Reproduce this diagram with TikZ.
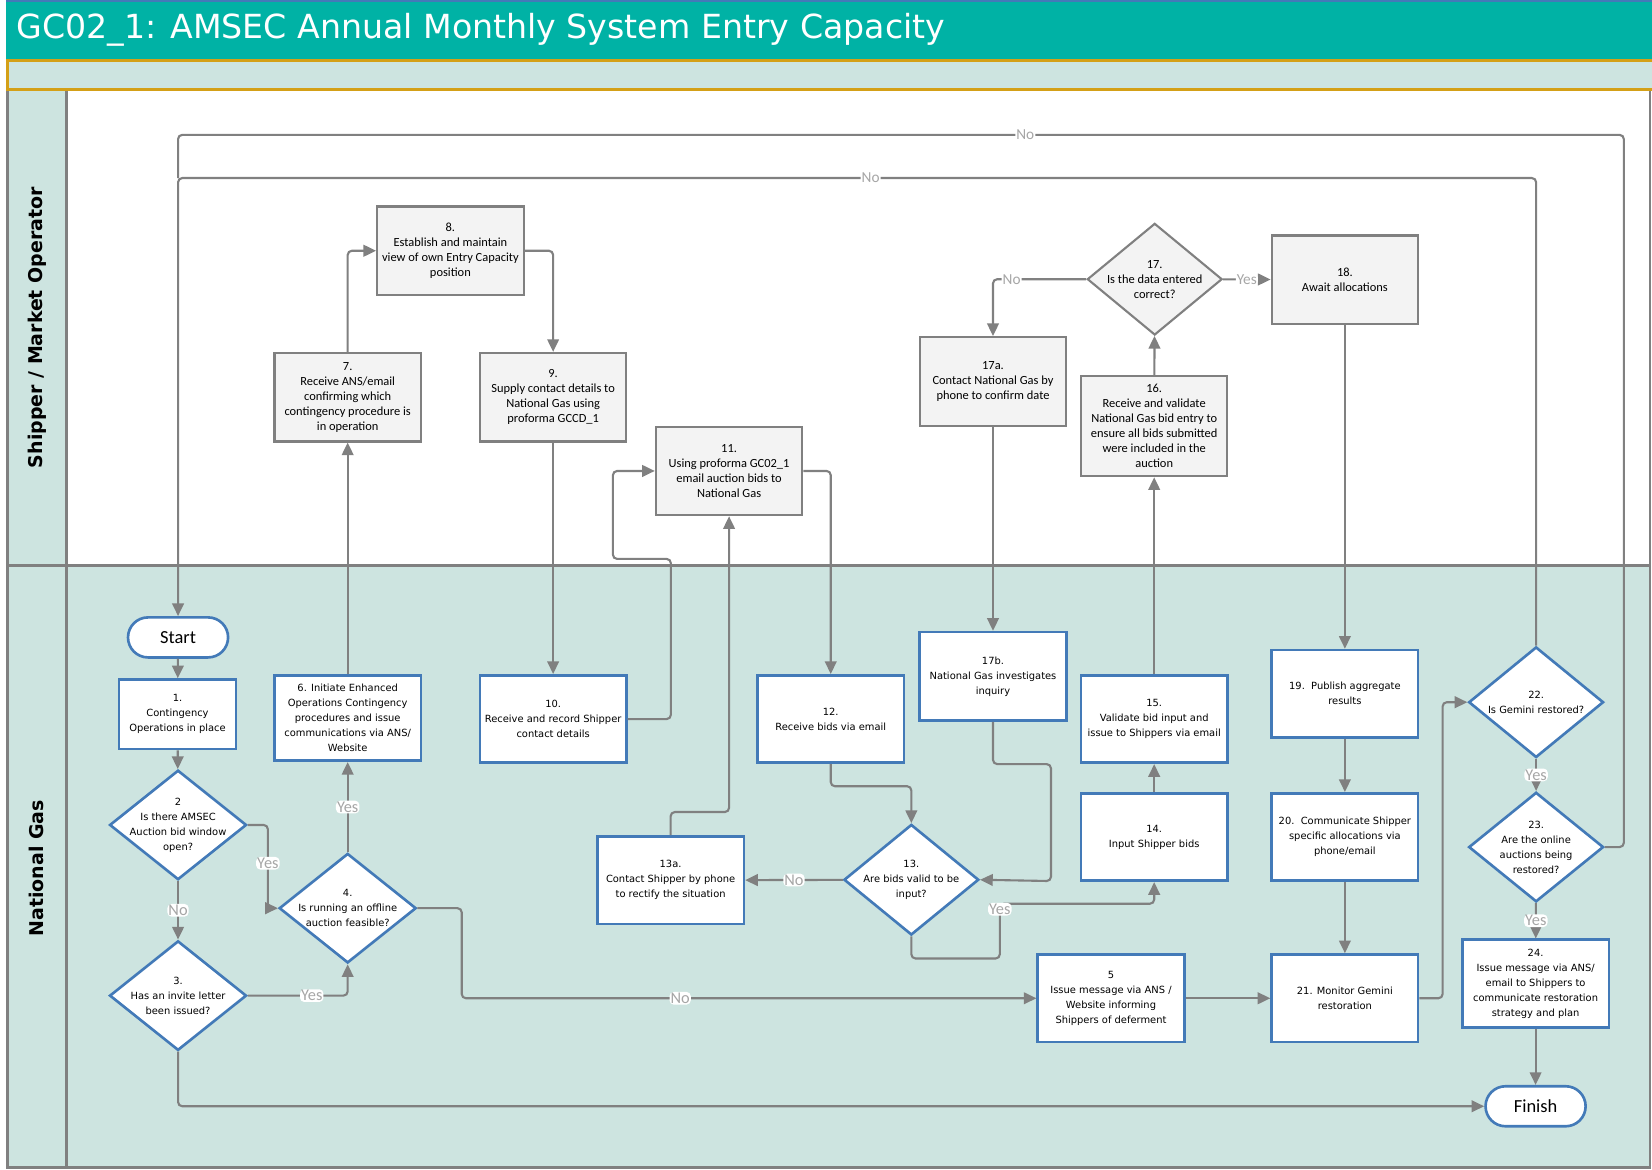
\documentclass[tikz,border=0pt]{standalone}
\usepackage{fontspec}
\setmainfont{DejaVu Sans}
\newfontfamily\calfont{Carlito}
\newfontfamily\tahfont{DejaVu Sans}
\usepackage{tikz}
\usetikzlibrary{shapes,arrows.meta,calc}

\definecolor{ngteal}{RGB}{0,178,165}
\definecolor{ngband}{RGB}{205,228,224}
\definecolor{ngold}{RGB}{212,160,23}
\definecolor{ngblue}{RGB}{67,122,184}
\definecolor{linegrey}{RGB}{128,128,128}
\definecolor{boxgrey}{RGB}{243,243,243}
\definecolor{labgrey}{RGB}{166,166,166}

\begin{document}
\begin{tikzpicture}[x=1pt, y=-1pt,
  sbox/.style={draw=linegrey, fill=boxgrey, line width=2pt, inner sep=0pt,
    minimum width=139, minimum height=84, align=center,
    font=\calfont\fontsize{11.8}{14.2}\selectfont},
  nbox/.style={draw=ngblue, fill=white, line width=2.5pt, inner sep=0pt,
    minimum width=139, minimum height=83, align=center,
    font=\tahfont\fontsize{9.4}{14.2}\selectfont},
  sdec/.style={diamond, draw=linegrey, fill=boxgrey, line width=2pt, inner sep=0pt,
    minimum width=128, minimum height=106},
  ndec/.style={diamond, draw=ngblue, fill=white, line width=2.5pt, inner sep=0pt,
    minimum width=130, minimum height=104},
  stxt/.style={align=center, inner sep=0pt, font=\calfont\fontsize{11.8}{14.2}\selectfont},
  ntxt/.style={align=center, inner sep=0pt, font=\tahfont\fontsize{9.4}{14.2}\selectfont},
  term/.style={draw=ngblue, fill=white, line width=2.5pt, rounded corners=19pt,
    minimum width=95, minimum height=38, font=\calfont\fontsize{17.5}{18}\selectfont},
  flow/.style={draw=linegrey, line width=2pt, rounded corners=4pt,
    -{Triangle[length=12pt, width=11pt]}},
  link/.style={draw=linegrey, line width=2pt, rounded corners=4pt},
  cond/.style={text=labgrey, fill=white, inner sep=1pt,
    font=\calfont\fontsize{15.5}{15.5}\selectfont},
  condsm/.style={cond, font=\calfont\fontsize{14.5}{14.5}\selectfont}
  ]

  \useasboundingbox (0,0) rectangle (1568,1110);
  \fill[white] (0,0) rectangle (1568,1110);

  %% title
  \fill[ngteal] (6,0) rectangle (1568,56);
  \fill[ngblue] (6,0) rectangle (1568,2);
  \node[anchor=west, text=white, font=\fontsize{31.5}{32}\selectfont] (title) at (12,28)
    {GC02\_1: AMSEC Annual Monthly System Entry Capacity};

  %% lanes
  \fill[ngband] (7,85) rectangle (63,1108);
  \fill[ngband] (63,537) rectangle (1566,1108);
  \draw[linegrey, line width=2.5pt] (7,85) rectangle (1566,1108);
  \draw[linegrey, line width=2.5pt] (63,85) -- (63,1108);
  \draw[linegrey, line width=2.5pt] (7,537) -- (1566,537);
  \draw[ngold, fill=ngband, line width=3pt] (7,57.5) rectangle (1575,85);
  \node[rotate=90, font=\bfseries\fontsize{18}{18}\selectfont] (shipper) at (35,311)
    {Shipper / Market Operator};
  \node[rotate=90, font=\bfseries\fontsize{18}{18}\selectfont] (natgas) at (35,824)
    {National Gas};

  %% Shipper / Market Operator
  \node[sbox] (n8) at (427.5,238) {8.\\Establish and maintain\\view of own Entry Capacity\\position};
  \node[sbox] (n7) at (330,377) {7.\\Receive ANS/email\\confirming which\\contingency procedure is\\in operation};
  \node[sbox] (n9) at (525,377) {9.\\Supply contact details to\\National Gas using\\proforma GCCD\_1};
  \node[sbox] (n11) at (692,447) {11.\\Using proforma GC02\_1\\email auction bids to\\National Gas};
  \node[sbox] (n17a) at (942.5,362) {17a.\\Contact National Gas by\\phone to confirm date};
  \node[sdec, label={[stxt]center:{17.\\Is the data entered\\correct?}}] (n17) at (1096,265) {};
  \node[sbox, minimum height=95] (n16) at (1095.5,404.5) {16.\\Receive and validate\\National Gas bid entry to\\ensure all bids submitted\\were included in the\\auction};
  \node[sbox] (n18) at (1276.5,265.5) {18.\\Await allocations};

  %% National Gas
  \node[term] (start) at (169,605) {Start};
  \node[nbox, minimum width=111, minimum height=66] (n1) at (168.5,678) {1.\\Contingency\\Operations in place};
  \node[ndec, label={[ntxt]center:{2\\Is there AMSEC\\Auction bid window\\open?}}] (n2) at (169,783) {};
  \node[ndec, label={[ntxt]center:{3.\\Has an invite letter\\been issued?}}] (n3) at (169,945) {};
  \node[ndec, label={[ntxt]center:{4.\\Is running an offline\\auction feasible?}}] (n4) at (330,862) {};
  \node[nbox, minimum height=81] (n6) at (330,681.5) {6. Initiate Enhanced\\Operations Contingency\\procedures and issue\\communications via ANS/\\Website};
  \node[nbox] (n10) at (525,682.5) {10.\\Receive and record Shipper\\contact details};
  \node[nbox] (n12) at (788.5,682.5) {12.\\Receive bids via email};
  \node[nbox, minimum height=84] (n17b) at (942.5,642) {17b.\\National Gas investigates\\inquiry};
  \node[nbox] (n15) at (1095.5,682.5) {15.\\Validate bid input and\\issue to Shippers via email};
  \node[nbox] (n14) at (1095.5,794.5) {14.\\Input Shipper bids};
  \node[nbox] (n13a) at (636.5,835.5) {13a.\\Contact Shipper by phone\\to rectify the situation};
  \node[ndec, minimum width=128, minimum height=105, label={[ntxt]center:{13.\\Are bids valid to be\\input?}}] (n13) at (865,835) {};
  \node[nbox] (n5) at (1054.5,947.5) {5\\Issue message via ANS /\\Website informing\\Shippers of deferment};
  \node[nbox] (n19) at (1276.5,658.5) {19.\ \ Publish aggregate\\results};
  \node[nbox] (n20) at (1276.5,794.5) {20.\ \ Communicate Shipper\\specific allocations via\\phone/email};
  \node[nbox] (n21) at (1276.5,947.5) {21. Monitor Gemini\\restoration};
  \node[ndec, minimum width=128, minimum height=105, label={[ntxt]center:{22.\\Is Gemini restored?}}] (n22) at (1458,666.5) {};
  \node[ndec, minimum width=128, minimum height=104, label={[ntxt]center:{23.\\Are the online\\auctions being\\restored?}}] (n23) at (1458,804) {};
  \node[nbox] (n24) at (1457.5,933.5) {24.\\Issue message via ANS/\\email to Shippers to\\communicate restoration\\strategy and plan};
  \node[term] (finish) at (1457.5,1050) {Finish};

  \coordinate (top1) at (169,169);
  \coordinate (top2) at (169,128);

  %% connectors
  \draw[flow] (start) -- (n1);
  \draw[flow] (n1) -- (n2);
  \draw[flow] (n2) -- node[cond]{No} (n3);
  \draw[flow] (n2.east) -- ++(19,0) |- node[cond, pos=0.23]{Yes} (n4.west); %% 2->4
  \draw[flow] (n3.east) -| node[cond, pos=0.32]{Yes} (n4.south); %% 3->4
  \draw[flow] (n4) -- node[cond]{Yes} (n6);
  \draw[flow] (n4.east) -- ++(42,0) |- node[cond, pos=0.69]{No} (n5.west); %% 4->5
  \draw[flow] (n3.south) |- (finish.west);
  \draw[flow] (n6) -- (n7);
  \draw[flow] (n7.north) |- (n8.west);
  \draw[flow] (n8.east) -| (n9.north);
  \draw[flow] (n9) -- (n10);
  \draw[flow] (n10.east) -- ++(41,0) |- ++(-55,-152) |- (n11.west); %% 10->11
  \draw[flow] (n13a.north) -- ++(0,-22) -| (n11.south);
  \draw[flow] (n11.east) -| (n12.north);
  \draw[flow] (n12.south) -- ++(0,21) -| (n13.north);
  \draw[flow] (n13) -- node[cond]{No} (n13a);
  \draw[flow] (n13.south) -- ++(0,21) -| node[cond, pos=0.95]{Yes} ++(84,-52) -| (n14.south); %% 13->14
  \draw[flow] (n14) -- (n15);
  \draw[flow] (n15) -- (n16);
  \draw[flow] (n16) -- (n17);
  \draw[flow] (n17.west) -| node[condsm, pos=0.4]{No} (n17a.north);
  \draw[flow] (n17) -- node[condsm]{Yes} (n18);
  \draw[flow] (n17a) -- (n17b);
  \draw[flow] (n17b.south) -- ++(0,40) -| ++(55,111) -- (n13.east); %% 17b->13
  \draw[flow] (n18) -- (n19);
  \draw[flow] (n19) -- (n20);
  \draw[flow] (n20) -- (n21);
  \draw[flow] (n5) -- (n21);
  \draw[flow] (n21.east) -- ++(22,0) |- (n22.west);
  \draw[flow] (n22) -- node[cond]{Yes} (n23);
  \draw[flow] (n23) -- node[cond]{Yes} (n24);
  \draw[flow] (n24) -- (finish);
  \draw[flow] (n22.north) |- node[condsm, pos=0.745]{No} (top1) -- (start.north); %% 22->start
  \draw[link] (n23.east) -- ++(18,0) |- node[condsm, pos=0.707]{No} (top2) -- (top1); %% 23->start
\end{tikzpicture}
\end{document}
